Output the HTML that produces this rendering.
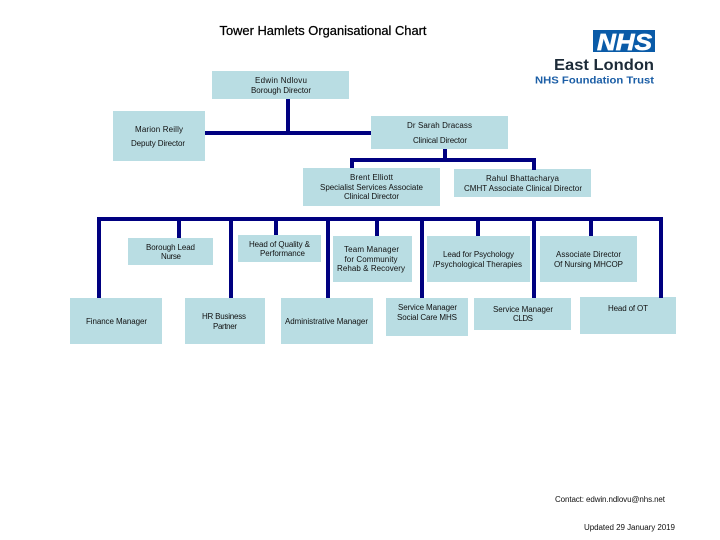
<!DOCTYPE html>
<html lang="en">
<head>
<meta charset="utf-8">
<title>Tower Hamlets Organisational Chart</title>
<style>
html,body{margin:0;padding:0;background:#fff;width:720px;height:540px;overflow:hidden}
svg{display:block}
text{font-family:"Liberation Sans",sans-serif;font-size:8px;fill:#111;text-anchor:middle}
.b{fill:#b9dde3}
.l{fill:#000080}
</style>
</head>
<body>
<svg width="720" height="540" viewBox="0 0 720 540" xmlns="http://www.w3.org/2000/svg">
<rect width="720" height="540" fill="#fff"/>

<!-- boxes -->
<rect class="b" x="212" y="71" width="137" height="28"/>
<rect class="b" x="113" y="111" width="92" height="50"/>
<rect class="b" x="371" y="116" width="137" height="33"/>
<rect class="b" x="303" y="168" width="137" height="38"/>
<rect class="b" x="454" y="169" width="137" height="28"/>
<rect class="b" x="128" y="238" width="85" height="27"/>
<rect class="b" x="238" y="235" width="83" height="27"/>
<rect class="b" x="333" y="236" width="79" height="46"/>
<rect class="b" x="427" y="236" width="103" height="46"/>
<rect class="b" x="540" y="236" width="97" height="46"/>
<rect class="b" x="70" y="298" width="92" height="46"/>
<rect class="b" x="185" y="298" width="80" height="46"/>
<rect class="b" x="281" y="298" width="92" height="46"/>
<rect class="b" x="386" y="298" width="82" height="38"/>
<rect class="b" x="474" y="298" width="97" height="32"/>
<rect class="b" x="580" y="297" width="96" height="37"/>

<!-- connectors -->
<rect class="l" x="205" y="131" width="166" height="4"/>
<rect class="l" x="286" y="99" width="4" height="33"/>
<rect class="l" x="443" y="149" width="4" height="10"/>
<rect class="l" x="350" y="158" width="186" height="4"/>
<rect class="l" x="350" y="158" width="4" height="10"/>
<rect class="l" x="532" y="158" width="4" height="12"/>
<rect class="l" x="97" y="217" width="566" height="4"/>
<rect class="l" x="97" y="217" width="4" height="81"/>
<rect class="l" x="177" y="217" width="4" height="21"/>
<rect class="l" x="229" y="217" width="4" height="81"/>
<rect class="l" x="274" y="217" width="4" height="18"/>
<rect class="l" x="326" y="217" width="4" height="81"/>
<rect class="l" x="375" y="217" width="4" height="19"/>
<rect class="l" x="420" y="217" width="4" height="81"/>
<rect class="l" x="476" y="217" width="4" height="19"/>
<rect class="l" x="532" y="217" width="4" height="81"/>
<rect class="l" x="589" y="217" width="4" height="19"/>
<rect class="l" x="659" y="217" width="4" height="81"/>

<!-- title -->
<text x="323" y="35" style="font-size:12.5px;fill:#000;stroke:#000;stroke-width:.25" textLength="207" lengthAdjust="spacingAndGlyphs">Tower Hamlets Organisational Chart</text>

<!-- logo -->
<rect x="593" y="30" width="62" height="22" fill="#0a5ba8"/>
<text x="624.5" y="50" style="font-size:23px;font-weight:bold;font-style:italic;fill:#fff;stroke:#fff;stroke-width:.7" textLength="55" lengthAdjust="spacingAndGlyphs">NHS</text>
<text x="604" y="70" style="font-size:15.5px;font-weight:bold;fill:#1d2b38" textLength="100" lengthAdjust="spacingAndGlyphs">East London</text>
<text x="594.5" y="83.5" style="font-size:10.5px;font-weight:bold;fill:#1b5ea6" textLength="119" lengthAdjust="spacingAndGlyphs">NHS Foundation Trust</text>

<!-- labels -->
<text x="281" y="83" textLength="52" lengthAdjust="spacing">Edwin Ndlovu</text>
<text x="281" y="93" textLength="60" lengthAdjust="spacing">Borough Director</text>
<text x="159" y="132" textLength="48" lengthAdjust="spacing">Marion Reilly</text>
<text x="158" y="146" textLength="54" lengthAdjust="spacing">Deputy Director</text>
<text x="439.5" y="128" textLength="65" lengthAdjust="spacing">Dr Sarah Dracass</text>
<text x="440" y="143" textLength="54" lengthAdjust="spacing">Clinical Director</text>
<text x="371.5" y="180" textLength="43" lengthAdjust="spacing">Brent Elliott</text>
<text x="371.5" y="190" textLength="103" lengthAdjust="spacing">Specialist Services Associate</text>
<text x="371.5" y="199" textLength="55" lengthAdjust="spacing">Clinical Director</text>
<text x="522.5" y="181" textLength="73" lengthAdjust="spacing">Rahul Bhattacharya</text>
<text x="523" y="191" textLength="118" lengthAdjust="spacing">CMHT Associate Clinical Director</text>
<text x="170.5" y="250" textLength="49" lengthAdjust="spacing">Borough Lead</text>
<text x="171" y="259" textLength="20" lengthAdjust="spacing">Nurse</text>
<text x="279.5" y="247" textLength="61" lengthAdjust="spacing">Head of Quality &amp;</text>
<text x="282.5" y="256" textLength="45" lengthAdjust="spacing">Performance</text>
<text x="371.5" y="252" textLength="55" lengthAdjust="spacing">Team Manager</text>
<text x="371" y="262" textLength="53" lengthAdjust="spacing">for Community</text>
<text x="371" y="271" textLength="68" lengthAdjust="spacing">Rehab &amp; Recovery</text>
<text x="478.5" y="257" textLength="71" lengthAdjust="spacing">Lead for Psychology</text>
<text x="477.5" y="267" textLength="89" lengthAdjust="spacing">/Psychological Therapies</text>
<text x="588.5" y="257" textLength="65" lengthAdjust="spacing">Associate Director</text>
<text x="588.5" y="267" textLength="69" lengthAdjust="spacing">Of Nursing MHCOP</text>
<text x="116.5" y="324" textLength="61" lengthAdjust="spacing">Finance Manager</text>
<text x="224" y="319" textLength="44" lengthAdjust="spacing">HR Business</text>
<text x="225" y="329" textLength="24" lengthAdjust="spacing">Partner</text>
<text x="326.5" y="324" textLength="83" lengthAdjust="spacing">Administrative Manager</text>
<text x="427.5" y="310" textLength="59" lengthAdjust="spacing">Service Manager</text>
<text x="427" y="320" textLength="60" lengthAdjust="spacing">Social Care MHS</text>
<text x="523" y="312" textLength="60" lengthAdjust="spacing">Service Manager</text>
<text x="523" y="321" textLength="20" lengthAdjust="spacing">CLDS</text>
<text x="628" y="311" textLength="40" lengthAdjust="spacing">Head of OT</text>
<text x="610" y="502" textLength="110" lengthAdjust="spacing">Contact: edwin.ndlovu@nhs.net</text>
<text x="629.5" y="530" textLength="91" lengthAdjust="spacing">Updated 29 January 2019</text>
</svg>
</body>
</html>
